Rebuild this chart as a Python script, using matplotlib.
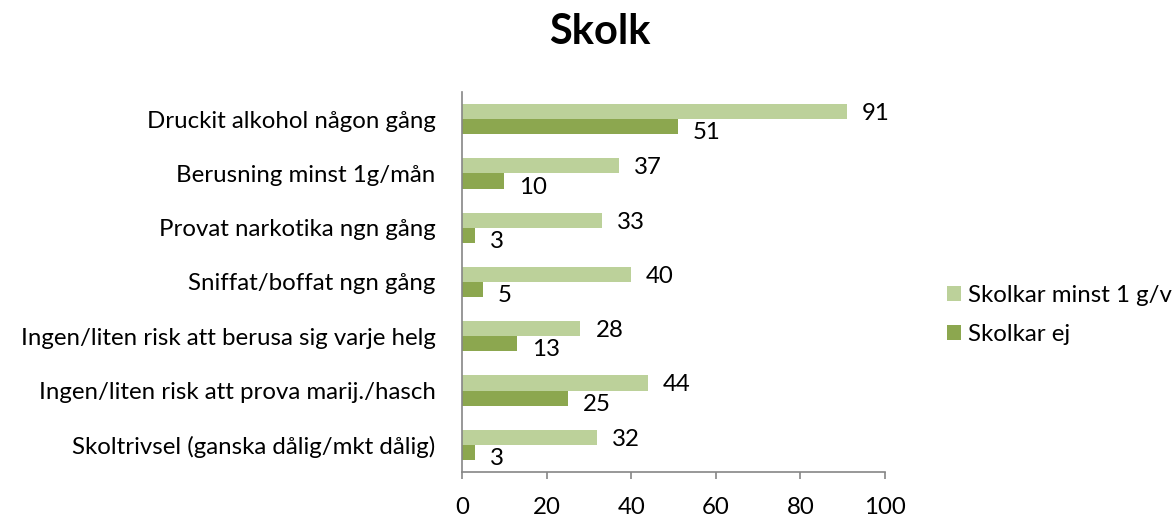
import matplotlib
matplotlib.use("Agg")
import matplotlib.pyplot as plt
import numpy as np

categories = [
    "Druckit alkohol någon gång",
    "Berusning minst 1g/mån",
    "Provat narkotika ngn gång",
    "Sniffat/boffat ngn gång",
    "Ingen/liten risk att berusa sig varje helg",
    "Ingen/liten risk att prova marij./hasch",
    "Skoltrivsel (ganska dålig/mkt dålig)",
]
skolkar_minst = [91, 37, 33, 40, 28, 44, 32]
skolkar_ej = [51, 10, 3, 5, 13, 25, 3]
series_names = ["Skolkar minst 1 g/v", "Skolkar ej"]
xticks = [0, 20, 40, 60, 80, 100]

plt.rcParams['font.family'] = ['Lato', 'DejaVu Sans']
FS = 17.3

fig = plt.figure(figsize=(11.76, 5.18), dpi=100)
ax = fig.add_axes([462/1176, 1-472/518, (885-462)/1176, (472-92)/518])

n = len(categories)
y = np.arange(n)
h = 0.28
c_light = "#BCD19A"
c_dark = "#8CA74F"
b1 = ax.barh(y - h/2, skolkar_minst, height=h, color=c_light, label=series_names[0])
b2 = ax.barh(y + h/2, skolkar_ej, height=h, color=c_dark, label=series_names[1])

for yi, v in zip(y - h/2, skolkar_minst):
    ax.annotate(str(v), (v, yi), xytext=(15, -2), textcoords="offset pixels",
                ha="left", va="center", fontsize=FS)
for yi, v in zip(y + h/2, skolkar_ej):
    ax.annotate(str(v), (v, yi), xytext=(15, -6), textcoords="offset pixels",
                ha="left", va="center", fontsize=FS)

ax.set_ylim(n - 0.5, -0.5)
ax.set_xlim(0, 100)
ax.set_xticks(xticks)
ax.set_yticks(y)
ax.set_yticklabels(categories)
ax.tick_params(axis='y', length=0, pad=19, labelsize=FS)
ax.tick_params(axis='x', length=5, width=1.2, color="#868686", pad=13, labelsize=FS)
for s in ["top", "right"]:
    ax.spines[s].set_visible(False)
for s in ["left", "bottom"]:
    ax.spines[s].set_color("#868686")
    ax.spines[s].set_linewidth(1.2)

fig.suptitle("Skolk", x=0.51, y=0.975, fontsize=30, fontweight="bold", va="top")

leg = fig.legend(handles=[b1, b2], loc="center left", bbox_to_anchor=(925/1176, 1-315/518),
                 frameon=False, fontsize=FS, handlelength=0.6, handleheight=0.6,
                 handletextpad=0.3, labelspacing=0.75)

fig.savefig("out.png", dpi=100)
